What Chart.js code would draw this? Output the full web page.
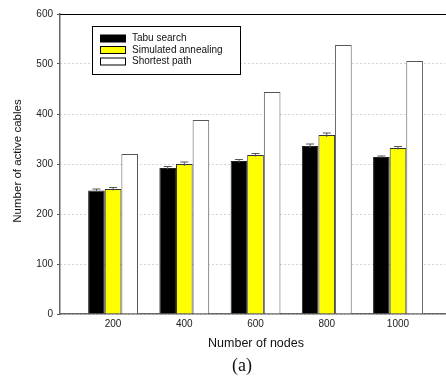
<!DOCTYPE html>
<html>
<head>
<meta charset="utf-8">
<script src="https://cdn.jsdelivr.net/npm/chart.js@4.4.0/dist/chart.umd.min.js"></script>
<style>
  html, body { margin: 0; padding: 0; background: #fff; }
  #wrap { width: 446px; height: 379px; }
</style>
</head>
<body>
<div id="wrap"><canvas id="barChart" width="446" height="379"></canvas></div>
<script>
// Données du graphique
const nodes = [200, 400, 600, 800, 1000];
const tabu = [247, 292, 306, 336, 314];
const tabuErr = [3, 3, 3, 4, 2];
const annealing = [250, 300, 318, 358, 332];
const annealingErr = [3, 4, 3, 4, 3];
const shortest = [320, 388, 444, 538, 506];
const yTicks = [0, 100, 200, 300, 400, 500, 600];

const font = "'Liberation Sans', Arial, sans-serif";

// Barres d'erreur (haut de chaque barre)
const errorBars = {
    id: 'errorBars',
    afterDatasetsDraw(chart) {
        const ctx = chart.ctx;
        const y = chart.scales.y;
        chart.data.datasets.forEach((ds, i) => {
            if (!ds.errors) return;
            const meta = chart.getDatasetMeta(i);
            meta.data.forEach((bar, j) => {
                const top = y.getPixelForValue(ds.data[j].y + ds.errors[j]);
                const bot = y.getPixelForValue(ds.data[j].y - ds.errors[j]);
                ctx.save();
                ctx.strokeStyle = '#555';
                ctx.lineWidth = 1;
                ctx.beginPath();
                ctx.moveTo(bar.x, bot);
                ctx.lineTo(bar.x, top);
                ctx.moveTo(bar.x - 4, top);
                ctx.lineTo(bar.x + 4, top);
                ctx.stroke();
                ctx.restore();
            });
        });
    }
};

// Cadre, légende et titres
const decorations = {
    id: 'decorations',
    afterDraw(chart) {
        const ctx = chart.ctx;
        const a = chart.chartArea;
        ctx.save();
        // ligne du haut
        ctx.strokeStyle = '#000';
        ctx.lineWidth = 1;
        ctx.beginPath();
        ctx.moveTo(a.left, a.top + 0.5);
        ctx.lineTo(chart.width, a.top + 0.5);
        ctx.stroke();

        // légende
        const lx = 92, ly = 26;
        ctx.fillStyle = '#fff';
        ctx.fillRect(lx, ly, 148, 48);
        ctx.strokeRect(lx + 0.5, ly + 0.5, 148, 48);
        chart.data.datasets.forEach((ds, i) => {
            const cy = 38.5 + i * 11.5;
            ctx.fillStyle = ds.backgroundColor;
            ctx.fillRect(100, cy - 3.5, 26, 7);
            ctx.strokeStyle = '#000';
            ctx.strokeRect(100.5, cy - 3.5, 25, 7);
            ctx.fillStyle = '#111';
            ctx.font = '10px ' + font;
            ctx.textBaseline = 'middle';
            ctx.textAlign = 'left';
            ctx.fillText(ds.label, 132, cy);
        });

        // titres des axes
        ctx.fillStyle = '#111';
        ctx.font = '11.5px ' + font;
        ctx.textAlign = 'center';
        ctx.textBaseline = 'middle';
        ctx.save();
        ctx.translate(18, (a.top + a.bottom) / 2 - 3);
        ctx.rotate(-Math.PI / 2);
        ctx.fillText('Number of active cables', 0, 0);
        ctx.restore();
        ctx.font = '12.5px ' + font;
        ctx.fillText('Number of nodes', 256, 344);
        ctx.font = "18px 'Liberation Serif', 'Times New Roman', serif";
        ctx.fillText('(a)', 242, 366);
        ctx.restore();
    }
};

const ctx = document.getElementById('barChart').getContext('2d');
const barChart = new Chart(ctx, {
    type: 'bar',
    data: {
        datasets: [{
            label: 'Tabu search',
            data: nodes.map((n, i) => ({ x: n, y: tabu[i] })),
            errors: tabuErr,
            backgroundColor: '#000000',
            borderColor: '#222',
            borderWidth: 1
        }, {
            label: 'Simulated annealing',
            data: nodes.map((n, i) => ({ x: n, y: annealing[i] })),
            errors: annealingErr,
            backgroundColor: '#ffff00',
            borderColor: '#333',
            borderWidth: 1
        }, {
            label: 'Shortest path',
            data: nodes.map((n, i) => ({ x: n, y: shortest[i] })),
            backgroundColor: '#ffffff',
            borderColor: '#555',
            borderWidth: 1
        }]
    },
    options: {
        responsive: false,
        animation: false,
        layout: { padding: { top: 14, right: 1, left: 0, bottom: 0 } },
        categoryPercentage: 0.70,
        barPercentage: 1.0,
        plugins: {
            legend: { display: false },
            tooltip: { enabled: false }
        },
        scales: {
            x: {
                type: 'linear',
                min: 51,
                max: 1132,
                offset: false,
                afterFit: s => { s.height = 65; },
                afterBuildTicks: s => { s.ticks = nodes.map(v => ({ value: v })); },
                grid: { display: false, drawTicks: false },
                border: { color: '#666', width: 1.5 },
                ticks: {
                    color: '#222',
                    font: { family: font, size: 10 },
                    padding: 4,
                    autoSkip: false,
                    maxRotation: 0,
                    callback: v => String(v)
                }
            },
            y: {
                min: 0,
                max: 600,
                afterFit: s => { s.width = 60; },
                afterBuildTicks: s => { s.ticks = yTicks.map(v => ({ value: v })); },
                grid: {
                    color: '#a8a8a8',
                    tickColor: '#555',
                    tickLength: 3
                },
                border: { color: '#666', width: 1.5, dash: [1, 3] },
                ticks: {
                    color: '#222',
                    font: { family: font, size: 10 },
                    padding: 4
                }
            }
        }
    },
    plugins: [errorBars, decorations]
});
</script>
</body>
</html>
